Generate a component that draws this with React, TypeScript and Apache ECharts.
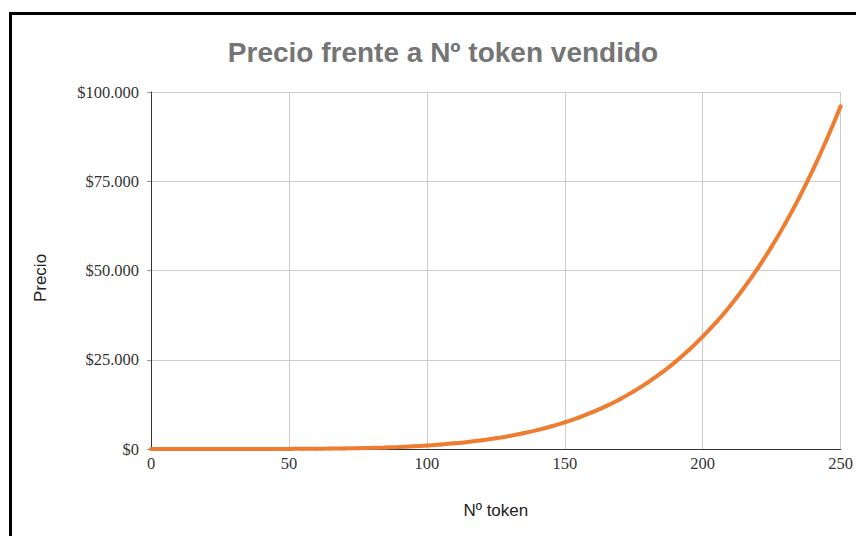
import React, { useEffect, useRef } from "react";
import * as echarts from "echarts";

const title = "Precio frente a Nº token vendido";
const xName = "Nº token";
const yName = "Precio";
const tokens = [0, 5, 10, 15, 20, 25, 30, 35, 40, 45, 50, 55, 60, 65, 70, 75, 80, 85, 90, 95, 100, 105, 110, 115, 120, 125, 130, 135, 140, 145, 150, 155, 160, 165, 170, 175, 180, 185, 190, 195, 200, 205, 210, 215, 220, 225, 230, 235, 240, 245, 250];
const prices = [0, 0, 0, 0, 0, 1, 2, 5, 10, 18, 31, 49, 76, 114, 165, 233, 322, 436, 580, 761, 983, 1254, 1583, 1977, 2446, 3000, 3650, 4408, 5287, 6301, 7465, 8795, 10308, 12022, 13958, 16134, 18575, 21302, 24340, 27716, 31456, 35589, 40147, 45159, 50660, 56685, 63269, 70452, 78272, 86773, 96000];

function fmtMoney(v: number): string {
  const s = Math.round(v).toString();
  return "$" + s.replace(/\B(?=(\d{3})+(?!\d))/g, ".");
}

export default function App() {
  const ref = useRef<HTMLDivElement>(null);
  useEffect(() => {
    if (!ref.current) return;
    const chart = echarts.init(ref.current, undefined, { renderer: "svg" });
    chart.setOption({
      animation: false,
      backgroundColor: "#ffffff",
      title: {
        text: title,
        left: 438,
        textAlign: "center",
        top: 33,
        textStyle: {
          fontFamily: "Liberation Sans, Arial, sans-serif",
          fontWeight: "bold",
          fontSize: 28,
          color: "#757575",
        },
      },
      grid: { left: 151, right: 14, top: 92, bottom: 87, containLabel: false },
      xAxis: {
        type: "value",
        min: 0,
        max: 250,
        interval: 50,
        name: xName,
        nameLocation: "middle",
        nameGap: 53,
        nameTextStyle: { fontFamily: "Liberation Sans, Arial, sans-serif", fontSize: 17, color: "#222" },
        axisLine: { show: true, lineStyle: { color: "#333", width: 1 } },
        axisTick: { show: false },
        axisLabel: { fontFamily: "Liberation Serif, Times New Roman, serif", fontSize: 16.5, color: "#333", margin: 6 },
        splitLine: { show: true, lineStyle: { color: "#cccccc", width: 1 } },
      },
      yAxis: {
        type: "value",
        min: 0,
        max: 100000,
        interval: 25000,
        axisLine: { show: true, lineStyle: { color: "#333", width: 1 } },
        axisTick: { show: true, length: 4, lineStyle: { color: "#999" } },
        axisLabel: {
          fontFamily: "Liberation Serif, Times New Roman, serif",
          fontSize: 16.5,
          color: "#333",
          margin: 12,
          formatter: (v: number) => fmtMoney(v),
        },
        splitLine: { show: true, lineStyle: { color: "#cccccc", width: 1 } },
      },
      graphic: [
        {
          type: "rect",
          shape: { x: 10.5, y: 13.5, width: 1000, height: 700 },
          style: { fill: "none", stroke: "#000", lineWidth: 3 },
          silent: true,
          z: 100,
        },
        {
          type: "text",
          x: 40,
          y: 278,
          rotation: Math.PI / 2,
          style: {
            text: yName,
            fontFamily: "Liberation Sans, Arial, sans-serif",
            fontSize: 17,
            fill: "#222",
            align: "center",
            verticalAlign: "middle",
          },
        },
      ],
      series: [
        {
          type: "line",
          data: tokens.map((t, i) => [t, prices[i]]),
          smooth: true,
          showSymbol: true,
          symbol: "circle",
          symbolSize: 4,
          itemStyle: { color: "#ef7d31" },
          lineStyle: { color: "#ef7d31", width: 4 },
          clip: false,
        },
      ],
    });
    return () => chart.dispose();
  }, []);
  return (
    <div
      ref={ref}
      style={{ position: "fixed", left: 0, top: 0, width: 856, height: 536 }}
    />
  );
}
